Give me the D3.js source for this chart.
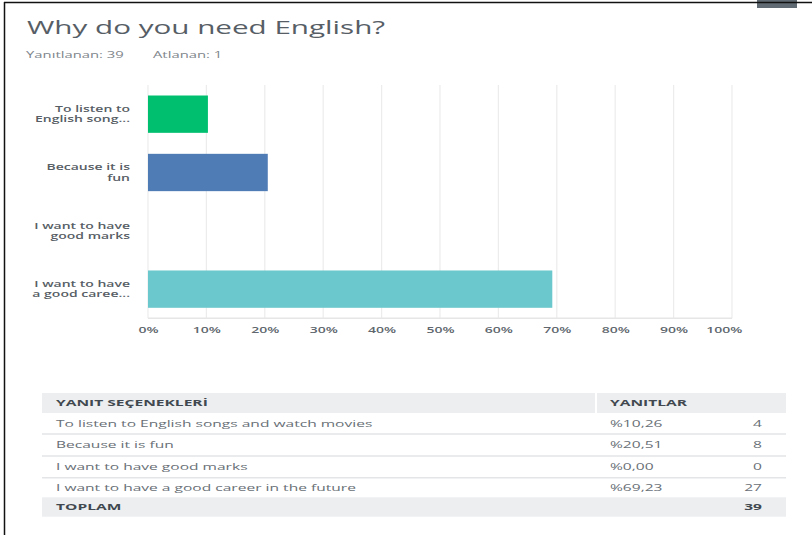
<!DOCTYPE html>
<html>
<head>
<meta charset="utf-8">
<script src="https://cdn.jsdelivr.net/npm/d3@7"></script>
<style>
  html, body { margin: 0; padding: 0; background: #fff; }
  svg { display: block; font-family: "Open Sans", "DejaVu Sans", sans-serif; }
</style>
</head>
<body>
<svg id="chart" width="812" height="535"></svg>
<script>
// Survey question data
const title = "Why do you need English?";
const answeredLabel = "Yanıtlanan: 39";
const skippedLabel = "Atlanan: 1";

const shortLabels = [
  ["To listen to", "English song..."],
  ["Because it is", "fun"],
  ["I want to have", "good marks"],
  ["I want to have", "a good caree..."]
];
const fullLabels = [
  "To listen to English songs and watch movies",
  "Because it is fun",
  "I want to have good marks",
  "I want to have a good career in the future"
];
const percents = [10.26, 20.51, 0.00, 69.23];
const counts = [4, 8, 0, 27];
const total = 39;
const barColors = ["#00bf6f", "#507cb6", "#f05b24", "#6bc8cd"];
const tickValues = [0, 10, 20, 30, 40, 50, 60, 70, 80, 90, 100];
const tableHeaders = ["YANIT SEÇENEKLERİ", "YANITLAR"];
const totalLabel = "TOPLAM";

const svg = d3.select("#chart");

// widen glyphs horizontally around each text's anchor point
function stretch(sx) {
  return sel => sel.each(function () {
    const t = d3.select(this);
    const x = +t.attr("x") || 0, y = +t.attr("y") || 0;
    t.attr("transform", `translate(${x},${y}) scale(${sx},1) translate(${-x},${-y})`);
  });
}

// frame
svg.append("rect").attr("x", 757).attr("y", 0).attr("width", 40).attr("height", 8).attr("fill", "#606a72");
svg.append("line").attr("x1", 4).attr("x2", 812).attr("y1", 2.5).attr("y2", 2.5).attr("stroke", "#111").attr("stroke-width", 1.5);
svg.append("line").attr("x1", 4.5).attr("x2", 4.5).attr("y1", 2).attr("y2", 535).attr("stroke", "#111").attr("stroke-width", 1.5);

// heading
svg.append("text").attr("x", 27).attr("y", 34).text(title)
  .attr("font-size", 19).attr("fill", "#575e66").call(stretch(1.56));
svg.append("text").attr("x", 26).attr("y", 58).text(answeredLabel)
  .attr("font-size", 9).attr("fill", "#80868c").call(stretch(1.65));
svg.append("text").attr("x", 153).attr("y", 58).text(skippedLabel)
  .attr("font-size", 9).attr("fill", "#80868c").call(stretch(1.65));

// scales
const x = d3.scaleLinear().domain([0, 100]).range([148, 732]);
const y = d3.scaleBand().domain(d3.range(percents.length)).range([85, 318.3])
  .paddingInner(0.36).paddingOuter(0.18);

// gridlines
const g = svg.append("g");
g.selectAll("line.grid").data(tickValues).join("line")
  .attr("class", "grid")
  .attr("x1", d => x(d)).attr("x2", d => x(d))
  .attr("y1", 85).attr("y2", 318.3)
  .attr("stroke", "#ececec").attr("stroke-width", 1.2);
g.append("line").attr("x1", x(0)).attr("x2", x(100)).attr("y1", 318.3).attr("y2", 318.3)
  .attr("stroke", "#e6e6e6").attr("stroke-width", 1.5);

// bars
g.selectAll("rect.bar").data(percents).join("rect")
  .attr("class", "bar")
  .attr("x", x(0))
  .attr("y", (d, i) => y(i))
  .attr("width", d => x(d) - x(0))
  .attr("height", y.bandwidth())
  .attr("fill", (d, i) => barColors[i]);

// category labels, two lines each
shortLabels.forEach((lines, i) => {
  const cy = y(i) + y.bandwidth() / 2;
  lines.forEach((ln, j) => {
    svg.append("text")
      .attr("x", 130).attr("y", cy + (j - 0.5) * 10.5 + 3)
      .attr("text-anchor", "end")
      .attr("font-size", 8).attr("font-weight", 600).attr("fill", "#575e65")
      .text(ln).call(stretch(1.75));
  });
});

// x axis labels
const axis = d3.axisBottom(x).tickValues(tickValues).tickSize(0).tickPadding(0)
  .tickFormat(d => d + "%");
const ax = svg.append("g").attr("transform", "translate(0,318.3)").call(axis);
ax.select(".domain").remove();
ax.selectAll("text")
  .attr("y", 15).attr("dy", 0)
  .attr("font-family", "\"Open Sans\", sans-serif")
  .attr("font-size", 8.5).attr("font-weight", 600).attr("fill", "#60676e")
  .attr("transform", "translate(0,15) scale(1.65,1) translate(0,-15)");
ax.selectAll(".tick").filter(d => d === 100).select("text").attr("dx", -5);

// response table
const tx0 = 42, tx1 = 786, colSplit = 596;
const headerY = 393, headerH = 20;
const rowYs = [413, 434, 456, 477.7];
const rowH = [21, 22, 21.7, 19.6];
const totalY = 497.3, totalH = 19.4;
const TS = 1.73;

const tbl = svg.append("g");
tbl.append("rect").attr("x", tx0).attr("y", headerY).attr("width", tx1 - tx0).attr("height", headerH).attr("fill", "#eceeef");
tbl.append("line").attr("x1", colSplit).attr("x2", colSplit).attr("y1", headerY).attr("y2", headerY + headerH).attr("stroke", "#fff").attr("stroke-width", 2);
tbl.append("rect").attr("x", tx0).attr("y", totalY).attr("width", tx1 - tx0).attr("height", totalH).attr("fill", "#eceeef");

tbl.selectAll("line.sep").data(rowYs.slice(1)).join("line")
  .attr("class", "sep")
  .attr("x1", tx0).attr("x2", tx1).attr("y1", d => d).attr("y2", d => d)
  .attr("stroke", "#e3e5e7").attr("stroke-width", 1.5);

tbl.append("text").attr("x", 56).attr("y", headerY + 13.5).text(tableHeaders[0])
  .attr("font-size", 9).attr("font-weight", 700).attr("fill", "#41484f").call(stretch(TS));
tbl.append("text").attr("x", 610).attr("y", headerY + 13.5).text(tableHeaders[1])
  .attr("font-size", 9).attr("font-weight", 700).attr("fill", "#41484f").call(stretch(TS));

const fmtPct = v => "%" + v.toFixed(2).replace(".", ",");
fullLabels.forEach((lab, i) => {
  const by = rowYs[i] + rowH[i] / 2 + 3.3;
  tbl.append("text").attr("x", 56).attr("y", by).text(lab)
    .attr("font-size", 9).attr("fill", "#686f76").call(stretch(TS));
  tbl.append("text").attr("x", 610).attr("y", by).text(fmtPct(percents[i]))
    .attr("font-size", 9).attr("fill", "#686f76").call(stretch(TS));
  tbl.append("text").attr("x", 762).attr("y", by).attr("text-anchor", "end").text(counts[i])
    .attr("font-size", 9).attr("fill", "#686f76").call(stretch(TS));
});
tbl.append("text").attr("x", 56).attr("y", totalY + totalH / 2 + 3.3).text(totalLabel)
  .attr("font-size", 9).attr("font-weight", 700).attr("fill", "#41484f").call(stretch(TS));
tbl.append("text").attr("x", 762).attr("y", totalY + totalH / 2 + 3.3).attr("text-anchor", "end").text(total)
  .attr("font-size", 9).attr("font-weight", 700).attr("fill", "#41484f").call(stretch(TS));
</script>
</body>
</html>
